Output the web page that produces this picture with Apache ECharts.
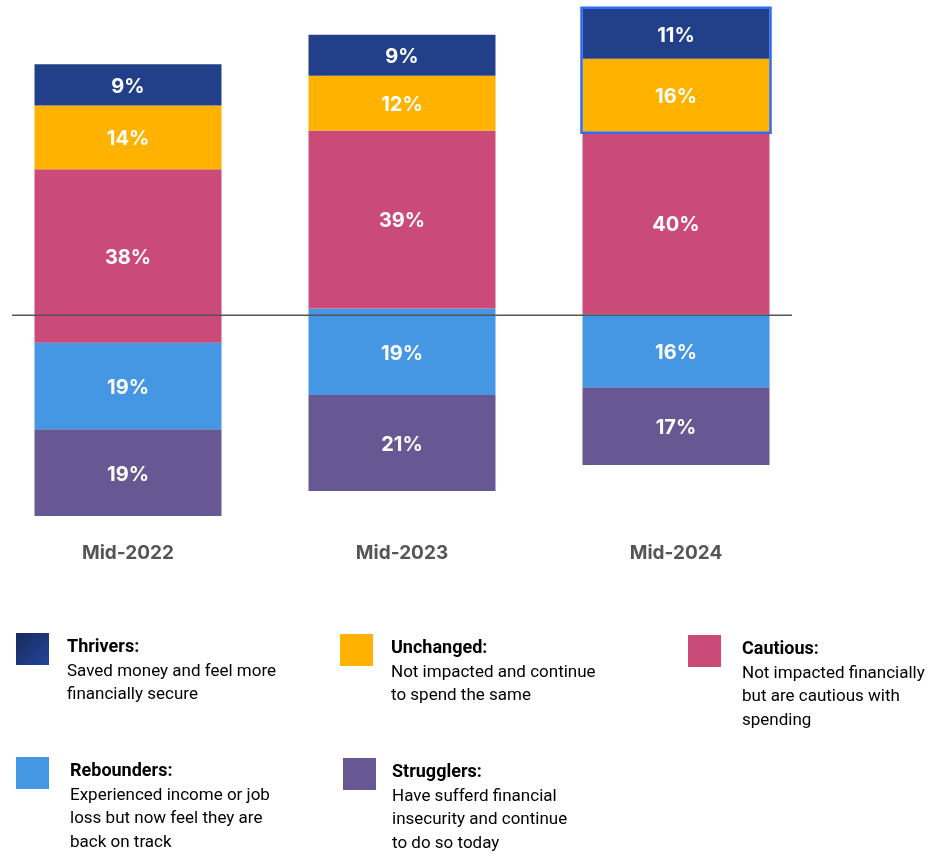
<!DOCTYPE html>
<html>
<head>
<meta charset="utf-8">
<script src="https://cdn.jsdelivr.net/npm/echarts@6/dist/echarts.min.js"></script>
<style>
  html, body { margin: 0; padding: 0; background: #fff; }
  #chart { width: 940px; height: 854px; }
</style>
</head>
<body>
<div id="chart"></div>
<script>
const categories = ['Mid-2022', 'Mid-2023', 'Mid-2024'];
const thrivers = [9, 9, 11];
const unchanged = [14, 12, 16];
const cautious = [38, 39, 40];
const rebounders = [19, 19, 16];
const strugglers = [19, 21, 17];
// invisible spacer under each bar, the bars float at different heights
const baseOffset = [0, 5.5, 11.2];
const dividerValue = 44;

const colors = {
  Thrivers: '#22408a',
  Unchanged: '#ffb300',
  Cautious: '#cb4b78',
  Rebounders: '#4597e3',
  Strugglers: '#675893'
};

const legendItems = [
  { name: 'Thrivers', desc: ['Saved money and feel more', 'financially secure'], sq: [16, 633], tx: [67, 636] },
  { name: 'Unchanged', desc: ['Not impacted and continue', 'to spend the same'], sq: [340, 634], tx: [391, 637] },
  { name: 'Cautious', desc: ['Not impacted financially', 'but are cautious with', 'spending'], sq: [688, 635], tx: [742, 638] },
  { name: 'Rebounders', desc: ['Experienced income or job', 'loss but now feel they are', 'back on track'], sq: [16, 757], tx: [70, 760] },
  { name: 'Strugglers', desc: ['Have sufferd financial', 'insecurity and continue', 'to do so today'], sq: [343, 758], tx: [392, 761] }
];

const chart = echarts.init(document.getElementById('chart'));

const segLabel = {
  show: true,
  position: 'inside',
  color: '#fff',
  fontFamily: 'Inter',
  fontWeight: 'bold',
  fontSize: 20,
  offset: [0, 2],
  formatter: (p) => p.value + '%'
};

const makeSeries = (name, data) => ({
  name: name,
  type: 'bar',
  stack: 'total',
  barWidth: 187,
  data: data,
  itemStyle: { color: colors[name] },
  label: segLabel,
  emphasis: { disabled: true }
});

const option = {
  animation: false,
  grid: { left: -9, width: 822, top: 5, height: 511, outerBoundsMode: 'none', containLabel: false },
  xAxis: {
    type: 'category',
    data: categories,
    axisLine: { show: false },
    axisTick: { show: false },
    axisLabel: {
      margin: 28,
      fontSize: 19,
      fontWeight: 'bold',
      fontFamily: 'Inter',
      color: '#555'
    }
  },
  yAxis: {
    type: 'value',
    min: 0,
    max: 112,
    show: false,
    splitLine: { show: false }
  },
  series: [
    {
      name: 'offset',
      type: 'bar',
      stack: 'total',
      barWidth: 187,
      data: baseOffset,
      itemStyle: { color: 'transparent' },
      silent: true
    },
    makeSeries('Strugglers', strugglers),
    makeSeries('Rebounders', rebounders),
    makeSeries('Cautious', cautious),
    makeSeries('Unchanged', unchanged),
    makeSeries('Thrivers', thrivers)
  ]
};

chart.setOption(option);

// divider line and highlight box, placed through the axes
const lineY = chart.convertToPixel({ yAxisIndex: 0 }, dividerValue);
const i24 = 2;
const cx = chart.convertToPixel({ xAxisIndex: 0 }, categories[i24]);
const boxBottom = chart.convertToPixel({ yAxisIndex: 0 },
  baseOffset[i24] + strugglers[i24] + rebounders[i24] + cautious[i24]);
const boxTop = chart.convertToPixel({ yAxisIndex: 0 },
  baseOffset[i24] + strugglers[i24] + rebounders[i24] + cautious[i24] + unchanged[i24] + thrivers[i24]);

const graphics = [
  {
    type: 'line',
    z: 10,
    shape: { x1: 12, y1: lineY, x2: 792, y2: lineY },
    style: { stroke: '#555', lineWidth: 1.5 }
  },
  {
    type: 'rect',
    z: 10,
    shape: { x: cx - 94.5, y: boxTop - 1, width: 189, height: boxBottom - boxTop + 2 },
    style: { fill: 'none', stroke: '#2f6cf2', lineWidth: 2.5 }
  }
];

legendItems.forEach((it) => {
  let fill = colors[it.name];
  if (it.name === 'Thrivers') {
    fill = new echarts.graphic.LinearGradient(0, 0, 1, 1, [
      { offset: 0, color: '#17295c' },
      { offset: 1, color: '#22459a' }
    ]);
  }
  graphics.push({
    type: 'rect',
    shape: { x: it.sq[0], y: it.sq[1], width: 33, height: 32 },
    style: { fill: fill }
  });
  graphics.push({
    type: 'text',
    x: it.tx[0],
    y: it.tx[1],
    style: {
      text: '{t|' + it.name + ':}\n' + it.desc.map((d) => '{d|' + d + '}').join('\n'),
      rich: {
        t: { fontFamily: 'Roboto', fontWeight: 'bold', fontSize: 18, color: '#111', lineHeight: 23.5 },
        d: { fontFamily: 'Roboto', fontSize: 17, color: '#333', lineHeight: 23.5 }
      }
    }
  });
});

chart.setOption({ graphic: graphics });
</script>
</body>
</html>
